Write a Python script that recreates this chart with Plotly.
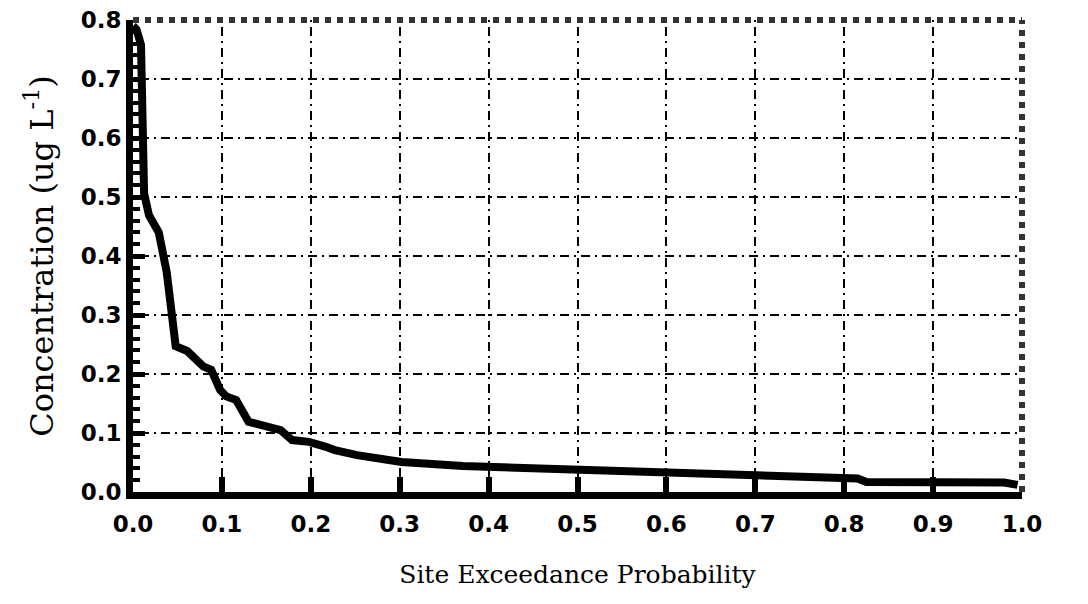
import plotly.graph_objects as go

# Data
prob = [0, 0.004, 0.009, 0.011, 0.0125, 0.018, 0.025, 0.029, 0.038, 0.048,
        0.061, 0.071, 0.079, 0.088, 0.098, 0.105, 0.116, 0.130, 0.145, 0.166,
        0.179, 0.198, 0.216, 0.227, 0.252, 0.280, 0.302, 0.371, 0.5, 0.6,
        0.7, 0.8, 0.815, 0.825, 0.98, 0.995]
conc = [0.79, 0.784, 0.758, 0.668, 0.506, 0.469, 0.452, 0.44, 0.372, 0.247,
        0.239, 0.224, 0.213, 0.207, 0.173, 0.162, 0.156, 0.119, 0.114, 0.105,
        0.088, 0.085, 0.077, 0.071, 0.0625, 0.057, 0.051, 0.044, 0.038, 0.033,
        0.029, 0.024, 0.023, 0.017, 0.016, 0.012]

x_ticks = [0.0, 0.1, 0.2, 0.3, 0.4, 0.5, 0.6, 0.7, 0.8, 0.9, 1.0]
y_ticks = [0.0, 0.1, 0.2, 0.3, 0.4, 0.5, 0.6, 0.7, 0.8]

tick_font = dict(family="DejaVu Sans", size=23, color="black", weight="bold")
x_title_font = dict(family="DejaVu Serif", size=25, color="black")
y_title_font = dict(family="DejaVu Serif", size=32, color="black")
grid_dash = "2px,5px,9px,5px"

fig = go.Figure()
fig.add_trace(go.Scatter(
    x=prob, y=conc, mode="lines",
    line=dict(color="black", width=8),
    showlegend=False,
))

fig.update_layout(
    width=1088, height=604,
    margin=dict(l=125, r=74, t=12, b=120),
    paper_bgcolor="white", plot_bgcolor="white",
    xaxis=dict(
        range=[0, 1.0], tickvals=x_ticks,
        ticktext=[f"{v:.1f}" for v in x_ticks],
        tickfont=tick_font, ticklabelstandoff=5,
        ticklabeloverflow="allow", automargin="bottom",
        showgrid=True, gridcolor="black", gridwidth=2, griddash=grid_dash,
        ticks="inside", ticklen=15, tickwidth=6, tickcolor="black",
        showline=True, linecolor="black", linewidth=7,
        zeroline=False,
        title=dict(text="Site Exceedance Probability", font=x_title_font, standoff=32),
    ),
    yaxis=dict(
        range=[0, 0.8001], tickvals=y_ticks,
        ticktext=[f"{v:.1f}" for v in y_ticks],
        tickfont=tick_font,
        ticklabeloverflow="allow", automargin="left",
        showgrid=True, gridcolor="black", gridwidth=2, griddash=grid_dash,
        ticks="inside", ticklen=12, tickwidth=5, tickcolor="black",
        minor=dict(dtick=0.02, ticks="inside", ticklen=7, tickwidth=4,
                   tickcolor="black", showgrid=False),
        showline=True, linecolor="black", linewidth=7,
        zeroline=False,
        title=dict(text="Concentration (ug L<sup>-1</sup>)", font=y_title_font, standoff=20),
    ),
)

# Hatched top and right frame
fig.add_shape(type="line", xref="paper", yref="paper", x0=0, x1=1, y0=1, y1=1,
              line=dict(color="#333333", width=6, dash="dot"))
fig.add_shape(type="line", xref="paper", yref="paper", x0=1, x1=1, y0=0, y1=1,
              line=dict(color="#333333", width=6, dash="dot"))

fig.write_html("out.html")
